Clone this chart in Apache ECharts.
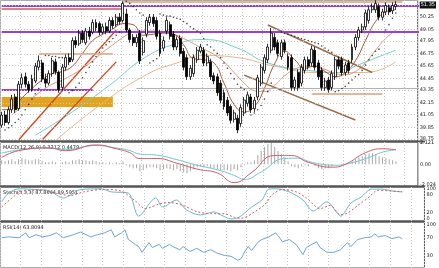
<!DOCTYPE html>
<html>
<head>
<meta charset="utf-8">
<script src="https://cdn.jsdelivr.net/npm/echarts@6/dist/echarts.min.js"></script>
<style>
  html, body { margin: 0; padding: 0; background: #fff; }
  #chart { width: 439px; height: 268px; }
</style>
</head>
<body>
<div id="chart"></div>
<script>
// ---- data ----
const slotCount = 124;
const categories = [];
for (let i = 0; i < slotCount; i++) categories.push(String(i));

// [open, close, low, high]
const candles = [
  [40.06, 41.0, 39.8, 41.3], [41.0, 40.3, 40.0, 41.4], [40.3, 41.5, 40.1, 41.8], [41.5, 42.5, 41.2, 42.9],
  [42.7, 41.5, 41.2, 43.0], [41.6, 43.9, 41.4, 44.2], [43.9, 44.5, 43.5, 44.9], [44.6, 43.9, 43.6, 45.0],
  [43.9, 43.4, 43.1, 44.2], [43.4, 44.4, 43.2, 44.8], [44.2, 45.6, 44.0, 45.9], [45.5, 46.1, 45.2, 46.6],
  [45.9, 44.4, 44.1, 46.2], [44.4, 44.0, 43.6, 44.9], [44.0, 44.9, 43.8, 45.2], [44.9, 46.1, 44.6, 46.4],
  [46.0, 45.1, 44.8, 46.3], [45.0, 43.4, 43.1, 45.2], [43.6, 45.5, 43.3, 45.8], [45.5, 46.4, 45.2, 46.7],
  [46.4, 46.0, 45.7, 46.8], [46.2, 48.0, 46.0, 48.3], [48.0, 47.6, 47.3, 48.4], [47.7, 48.7, 47.5, 49.0],
  [48.7, 48.1, 47.8, 49.0], [47.8, 48.9, 47.6, 49.2], [48.9, 48.4, 48.1, 49.3], [48.8, 49.7, 48.6, 50.0],
  [49.7, 49.2, 48.9, 50.0], [49.6, 48.8, 48.5, 49.8], [48.8, 49.3, 48.6, 49.6], [49.3, 48.9, 48.6, 49.7],
  [48.9, 49.9, 48.7, 50.2], [49.9, 49.4, 49.1, 50.2], [49.5, 50.2, 49.3, 50.5], [50.2, 49.8, 49.5, 50.6],
  [49.9, 51.5, 49.7, 51.7], [50.5, 49.0, 48.8, 51.0], [49.0, 48.1, 47.8, 49.2], [48.3, 47.8, 47.5, 48.6],
  [47.8, 48.3, 47.4, 48.6], [48.7, 46.1, 45.8, 49.0], [46.9, 48.0, 46.6, 48.3], [48.6, 49.9, 48.3, 50.2],
  [49.7, 50.2, 49.4, 50.5], [50.2, 49.6, 49.3, 50.5], [49.9, 48.4, 48.1, 50.2], [48.7, 46.8, 46.5, 49.0],
  [47.3, 48.0, 47.0, 48.4], [48.9, 49.9, 48.6, 50.2], [49.5, 48.4, 48.1, 49.8], [48.6, 47.4, 47.1, 48.9],
  [47.4, 48.1, 47.1, 48.4], [48.2, 46.8, 46.5, 48.5], [47.0, 45.5, 45.2, 47.3], [46.4, 44.6, 44.3, 46.7],
  [44.6, 45.4, 44.3, 45.7], [44.9, 46.4, 44.6, 46.7], [46.2, 47.1, 45.9, 47.4], [47.0, 47.4, 46.8, 47.7],
  [47.1, 45.9, 45.6, 47.4], [45.9, 46.5, 45.6, 46.8], [46.0, 44.6, 44.3, 46.3], [44.7, 44.2, 43.9, 45.0],
  [44.6, 43.1, 42.8, 44.9], [44.0, 42.4, 42.1, 44.3], [43.1, 41.8, 41.5, 43.4], [42.4, 41.2, 40.9, 42.7],
  [41.8, 40.5, 40.2, 42.0], [40.6, 41.2, 40.3, 41.5], [40.7, 39.6, 39.3, 41.0], [40.2, 41.7, 39.9, 42.0],
  [41.2, 42.4, 40.9, 42.7], [42.1, 42.9, 41.8, 43.2], [42.7, 41.5, 41.2, 43.0], [41.6, 42.4, 41.3, 42.7],
  [42.7, 44.5, 42.4, 44.8], [44.0, 45.5, 43.7, 45.8], [45.2, 46.4, 44.9, 46.7], [46.2, 47.4, 45.9, 47.7],
  [47.1, 48.7, 46.8, 49.2], [48.3, 47.4, 47.1, 48.7], [47.8, 46.8, 46.5, 48.1], [46.5, 47.8, 46.2, 48.1],
  [47.8, 47.1, 46.8, 48.1], [46.5, 45.5, 45.2, 46.8], [46.4, 43.6, 43.3, 46.7], [43.6, 44.3, 43.3, 44.6],
  [45.0, 43.6, 43.3, 45.3], [44.0, 45.5, 43.7, 45.8], [45.2, 46.2, 44.9, 46.5], [46.2, 45.6, 45.3, 46.5],
  [45.9, 47.2, 45.6, 47.5], [47.1, 45.5, 45.2, 47.4], [45.9, 44.6, 44.3, 46.2], [45.2, 43.6, 43.3, 45.5],
  [43.6, 44.2, 43.3, 44.5], [44.3, 43.4, 43.1, 44.6], [43.6, 44.9, 43.3, 45.2], [44.6, 46.2, 44.3, 46.5],
  [46.2, 45.6, 45.3, 46.5], [46.2, 45.0, 44.7, 46.5], [45.0, 45.7, 44.7, 46.0], [45.9, 45.2, 44.9, 46.2],
  [46.2, 47.4, 45.9, 47.7], [47.4, 48.3, 47.1, 48.6], [48.3, 49.0, 48.0, 49.3], [49.0, 49.3, 48.7, 49.6],
  [49.3, 50.6, 49.0, 50.9], [49.9, 50.9, 49.6, 51.2], [50.9, 51.2, 50.6, 51.5], [50.9, 51.5, 50.6, 51.8],
  [51.2, 50.2, 49.9, 51.5], [50.2, 50.7, 49.9, 51.0], [50.7, 51.3, 50.4, 51.6], [51.1, 50.7, 50.4, 51.4],
  [50.8, 51.3, 50.5, 51.6], [51.2, 51.4, 50.9, 51.7]
];

// moving averages, [candle index, price]
const maFast = [[0, 41.5], [3, 41.6], [6, 42.6], [9, 43.5], [12, 44.3], [15, 44.9], [18, 45.1], [21, 45.6],
  [24, 46.8], [27, 48.0], [30, 48.6], [33, 49.1], [36, 49.6], [39, 49.5], [42, 48.5], [45, 48.6], [48, 48.7],
  [51, 48.6], [54, 47.6], [57, 46.3], [60, 46.2], [63, 45.9], [66, 44.0], [69, 42.0], [72, 41.3], [75, 41.8],
  [78, 43.5], [81, 45.8], [84, 47.0], [87, 46.2], [90, 45.4], [93, 45.6], [96, 45.1], [99, 44.6], [102, 45.0],
  [105, 46.1], [108, 48.0], [111, 49.8], [114, 50.7], [117, 50.9]];
const maMid = [[3, 41.0], [6, 41.8], [9, 42.6], [12, 43.3], [15, 43.9], [18, 44.3], [21, 44.8], [24, 45.4],
  [27, 46.1], [30, 46.9], [33, 47.6], [36, 48.3], [39, 48.8], [42, 48.9], [45, 48.9], [48, 48.8], [51, 48.6],
  [54, 48.2], [57, 47.7], [60, 47.2], [63, 46.7], [66, 46.0], [69, 45.0], [72, 44.0], [75, 43.3], [78, 43.2],
  [81, 43.8], [84, 44.7], [87, 45.3], [90, 45.6], [93, 45.6], [96, 45.3], [99, 44.9], [102, 44.8], [105, 45.1],
  [108, 45.9], [111, 47.1], [114, 48.2], [117, 49.0]];
const maTeal = [[10, 39.1], [21, 41.3], [32, 43.8], [43, 46.5], [53, 47.8], [60, 48.1], [70, 47.3], [79, 45.9],
  [91, 45.2], [101, 45.0], [105, 45.6], [117, 47.1]];
const maTan = [[16, 38.6], [29, 41.9], [43, 44.8], [52, 45.9], [60, 46.6], [70, 46.4], [81, 45.6], [94, 45.0],
  [108, 45.0], [117, 46.0]];

// parabolic SAR dots
const sarDots = [[1, 39.6], [2, 39.8], [3, 40.0], [4, 40.3], [5, 40.6], [6, 41.0], [7, 41.5], [8, 42.0], [9, 42.5],
  [10, 43.0], [11, 43.5], [13, 46.6], [14, 46.6], [15, 46.5], [16, 46.5], [17, 46.4], [18, 46.4], [19, 46.3],
  [20, 43.1], [21, 43.3], [22, 43.6], [23, 44.0], [24, 44.5], [25, 45.0], [26, 45.5], [27, 46.0], [28, 46.5],
  [29, 46.9], [30, 47.3], [31, 47.6], [32, 47.9], [33, 48.2], [34, 48.5], [35, 48.8], [37, 51.7], [38, 51.5],
  [39, 51.2], [40, 50.9], [41, 50.6], [42, 50.4], [44, 45.9], [45, 46.1], [46, 46.3], [47, 50.5], [48, 50.4],
  [49, 50.3], [50, 50.3], [51, 50.2], [52, 50.1], [53, 50.0], [54, 49.8], [55, 49.6], [56, 49.3], [57, 49.1],
  [58, 48.9], [59, 48.7], [60, 48.2], [61, 47.6], [62, 47.4], [63, 47.1], [64, 46.8], [65, 46.4], [66, 45.9],
  [67, 45.4], [68, 44.9], [69, 44.4], [70, 43.9], [71, 43.6], [72, 43.4], [74, 41.0], [75, 41.2], [76, 41.5],
  [77, 41.9], [78, 42.5], [79, 43.2], [80, 44.0], [83, 48.8], [84, 48.7], [85, 48.6], [86, 48.5], [87, 48.4],
  [88, 48.3], [89, 48.2], [90, 48.1], [91, 48.0], [92, 47.9], [93, 47.8], [94, 47.7], [95, 47.5], [96, 47.3],
  [97, 47.1], [98, 46.9], [99, 43.2], [100, 43.3], [101, 43.5], [102, 43.7], [103, 44.0], [104, 44.3],
  [105, 44.6], [106, 44.8], [107, 45.2], [108, 45.7], [109, 46.2], [110, 46.6], [111, 47.0], [112, 47.2],
  [114, 49.0], [115, 49.5], [116, 50.1], [117, 50.6]];

// drawn objects on the price panel, [[x1, y1], [x2, y2]] in candle index / price
const redTrendLines = [[[5.3, 38.65], [33.6, 49.0]], [[12.0, 38.65], [33.9, 46.0]]];
const channelLines = [[[79.1, 49.47], [109.7, 45.0]], [[72.4, 44.76], [105.0, 40.53]]];
const purpleLevels = [[[-0.5, 51.26], [123.5, 51.26]], [[-0.5, 48.8], [123.5, 48.8]], [[-0.5, 43.35], [27.2, 43.35]]];
const tanLevels = [[[11.2, 46.74], [33.0, 46.74]], [[92.0, 42.97], [112.5, 42.97]], [[36.0, 51.63], [119.0, 51.63]]];
const redLevels = [[[-0.5, 50.97], [36.0, 50.97]]];
const greyLevels = [[[40.0, 43.5], [123.5, 43.5]]];
const goldZone = [[-0.5, 42.69], [33.0, 41.75]];

// MACD
const macdHist = [0.4, 0.3, 0.4, 0.5, 0.3, 0.5, 0.6, 0.5, 0.4, 0.4, 0.5, 0.5, 0.3,
  0.2, 0.2, 0.3, 0.2, 0.0, 0.2, 0.3, 0.2, 0.4, 0.4, 0.5, 0.4,
  0.4, 0.3, 0.4, 0.3, 0.2, 0.2, 0.1, 0.2, 0.1, 0.2, 0.1, 0.3,
  -0.1, -0.3, -0.4, -0.4, -0.7, -0.6, -0.4, -0.3, -0.3, -0.4, -0.6, -0.5, -0.4, -0.5,
  -0.6, -0.5, -0.7, -0.8, -0.9, -0.7, -0.5, -0.3, -0.2, -0.3, -0.2, -0.4, -0.4,
  -0.5, -0.6, -0.6, -0.6, -0.7, -0.5, -0.6, -0.3, -0.1,
  0.2, 0.2, 0.4, 0.9, 1.3, 1.7, 2.0, 2.1, 1.7, 1.3,
  1.0, 0.7, 0.3, -0.2, -0.3, -0.4, -0.2, -0.1, -0.2, 0.0, -0.2, -0.4, -0.5, -0.4, -0.4,
  -0.2, 0.0, 0.0, -0.1, 0.0, 0.0, 0.3, 0.5,
  0.7, 0.8, 1.0, 1.1, 1.1, 1.0, 0.8, 0.7, 0.6, 0.5, 0.4, 0.3];
const macdRed = [[0, 0.67], [5, 1.34], [14, 1.62], [19, 1.34], [28, 1.91], [34, 1.53], [38, 1.15], [41, 0.57],
  [46, 0.57], [52, 0.1], [58, -0.48], [64, -0.86], [69, -1.81], [74, -0.86], [81, 0.86], [86, 0.86], [91, 0.19],
  [98, -0.29], [102, 0.0], [108, 1.15], [113, 1.53], [117, 1.43]];
const macdTeal = [[0, 1.1], [5, 1.4], [14, 1.6], [19, 1.45], [28, 1.85], [34, 1.6], [38, 1.35], [41, 1.0],
  [46, 0.9], [52, 0.45], [58, -0.1], [64, -0.55], [69, -1.1], [72, -1.5], [77, -0.76], [84, 0.57], [88, 0.6],
  [91, 0.29], [95, 0.0], [99, -0.1], [102, 0.0], [109, 0.67], [113, 1.2], [117, 1.43]];

// Stochastic
const stochMain = [[0, 57], [2, 86], [5, 100], [11, 97], [14, 93], [18, 70], [23, 97], [29, 100], [32, 90],
  [37, 86], [40, 10], [45, 70], [47, 40], [51, 63], [54, 30], [58, 14], [62, 24], [64, 14], [67, 1], [69, 4],
  [73, 40], [76, 63], [78, 99], [80, 100], [84, 90], [88, 63], [91, 27], [95, 57], [98, 20], [99, 10],
  [102, 53], [105, 73], [108, 99], [111, 99], [114, 93], [117, 90]];
const stochSignal = [[0, 40], [3, 70], [6, 92], [12, 96], [16, 85], [20, 78], [24, 90], [30, 98], [35, 92],
  [39, 60], [42, 35], [46, 50], [49, 55], [53, 45], [57, 25], [61, 18], [65, 18], [68, 6], [70, 3], [74, 25],
  [77, 50], [79, 80], [82, 98], [86, 90], [89, 70], [93, 35], [96, 45], [99, 15], [101, 20], [104, 45],
  [107, 70], [110, 95], [117, 90]];

// RSI
const rsiLine = [[0, 71], [2, 73], [5, 71], [7, 82], [8, 71], [10, 78], [12, 73], [14, 76], [16, 82], [18, 71],
  [21, 78], [23, 84], [26, 73], [28, 78], [30, 82], [32, 89], [33, 73], [35, 82], [36, 89], [37, 67], [39, 56],
  [40, 51], [41, 38], [43, 60], [44, 49], [46, 56], [47, 47], [49, 56], [50, 51], [52, 44], [53, 51], [55, 40],
  [57, 47], [59, 38], [61, 44], [63, 36], [65, 31], [67, 29], [69, 20], [70, 24], [71, 40], [72, 51], [73, 42],
  [75, 62], [76, 67], [78, 73], [80, 82], [81, 73], [82, 62], [84, 67], [86, 56], [88, 33], [89, 49], [92, 62],
  [93, 49], [95, 38], [97, 38], [99, 44], [101, 60], [102, 51], [104, 67], [106, 71], [108, 73], [109, 80],
  [110, 73], [112, 76], [114, 69], [116, 73], [117, 69]];

// axis labels
const priceTicks = [38.75, 39.85, 41.05, 42.15, 43.35, 44.45, 45.65, 46.75, 47.95, 49.05, 50.25, 51.35];
const lastPrice = 51.35;
const macdTicks = [-2.024, 0, 2.121];
const stochTicks = [0, 20, 80, 100];
const rsiTicks = [30, 70, 100];

// ---- chart ----
const chart = echarts.init(document.getElementById("chart"), null, { renderer: "canvas" });
const FONT = "DejaVu Sans";
const tinyLabel = { fontSize: 5, color: "#222", fontFamily: FONT, margin: 2 };

function xAxisFor(gi) {
  return {
    type: "category", gridIndex: gi, data: categories, boundaryGap: true,
    axisLine: { show: false }, axisTick: { show: false }, axisLabel: { show: false },
    splitLine: { show: true, interval: 5, lineStyle: { color: "#c8c8c8", type: [1, 2], width: 1 } }
  };
}
function yAxisFor(gi, min, max, ticks, fmt) {
  return {
    type: "value", gridIndex: gi, position: "right", min: min, max: max, scale: true,
    axisLine: { show: false }, axisTick: { show: false }, splitLine: { show: false },
    axisLabel: Object.assign({ customValues: ticks, formatter: fmt, showMinLabel: true, showMaxLabel: true }, tinyLabel)
  };
}
function segSeries(list, color, width, xi) {
  return list.map(seg => ({
    type: "line", xAxisIndex: xi || 0, yAxisIndex: xi || 0, data: seg, symbol: "none", silent: true,
    lineStyle: { color: color, width: width }, z: 4
  }));
}

const gridStyle = { show: true, borderColor: "#555", borderWidth: 1, backgroundColor: "#fff" };

const option = {
  animation: false,
  backgroundColor: "#fff",
  grid: [
    Object.assign({ left: 0, right: 14, top: 0, height: 141 }, gridStyle),
    Object.assign({ left: 0, right: 14, top: 142, height: 44 }, gridStyle),
    Object.assign({ left: 0, right: 14, top: 187, height: 34 }, gridStyle),
    Object.assign({ left: 0, right: 14, top: 222, height: 50 }, gridStyle)
  ],
  xAxis: [xAxisFor(0), xAxisFor(1), xAxisFor(2), xAxisFor(3)],
  yAxis: [
    yAxisFor(0, 38.56, 51.82, priceTicks, v => v === lastPrice ? "{cur|" + v.toFixed(2) + "}" : v.toFixed(2)),
    yAxisFor(1, -2.15, 2.2, macdTicks, v => v === 0 ? "0.00" : v.toFixed(3)),
    yAxisFor(2, -6, 106, stochTicks, v => String(v)),
    yAxisFor(3, 2.5, 106.7, rsiTicks, v => String(v))
  ],
  series: [
    {
      type: "candlestick", xAxisIndex: 0, yAxisIndex: 0, data: candles, barWidth: 2.4, z: 6,
      itemStyle: { color: "#ffffff", color0: "#000000", borderColor: "#000000", borderColor0: "#000000", borderWidth: 0.8 },
      markLine: {
        silent: true, symbol: "none", label: { show: false },
        lineStyle: { color: "#c8c8c8", type: [1, 2], width: 1 },
        data: priceTicks.map(v => ({ yAxis: v }))
      },
      markArea: {
        silent: true, itemStyle: { color: "#e3a31a" },
        data: [[{ coord: goldZone[0] }, { coord: goldZone[1] }]]
      }
    },
    { type: "line", data: maTan, symbol: "none", smooth: true, lineStyle: { color: "#e8b48c", width: 1 }, z: 3 },
    { type: "line", data: maTeal, symbol: "none", smooth: true, lineStyle: { color: "#72d0cc", width: 1 }, z: 3 },
    { type: "line", data: maMid, symbol: "none", smooth: true, lineStyle: { color: "#d9967a", width: 1 }, z: 3 },
    { type: "line", data: maFast, symbol: "none", smooth: true, lineStyle: { color: "#a0583a", width: 1 }, z: 3 },
    { type: "scatter", data: sarDots, symbol: "circle", symbolSize: 1.6, itemStyle: { color: "#111" }, z: 5, silent: true },
    ...segSeries(redTrendLines, "#d2451e", 1.3),
    ...segSeries(channelLines, "#9b6b45", 1.5),
    ...segSeries(purpleLevels, "#9a3fcf", 2),
    ...segSeries(tanLevels, "#d8a07c", 1.5),
    ...segSeries(redLevels, "#c8604e", 1.5),
    ...segSeries(greyLevels, "#b0b0b0", 1),

    {
      type: "bar", xAxisIndex: 1, yAxisIndex: 1, data: macdHist, barWidth: 1,
      itemStyle: { color: "#a8a8a8" }, silent: true
    },
    { type: "line", xAxisIndex: 1, yAxisIndex: 1, data: macdTeal, symbol: "none", smooth: true, lineStyle: { color: "#6cc8d0", width: 1 } },
    { type: "line", xAxisIndex: 1, yAxisIndex: 1, data: macdRed, symbol: "none", smooth: true, lineStyle: { color: "#d05a6a", width: 1 } },

    { type: "line", xAxisIndex: 2, yAxisIndex: 2, data: stochMain, symbol: "none", smooth: 0.3, lineStyle: { color: "#6cb8c8", width: 1 } },
    { type: "line", xAxisIndex: 2, yAxisIndex: 2, data: stochSignal, symbol: "none", smooth: 0.3, lineStyle: { color: "#d06060", width: 1, type: [2, 2] } },

    { type: "line", xAxisIndex: 3, yAxisIndex: 3, data: rsiLine, symbol: "none", lineStyle: { color: "#6fa3d6", width: 1 } }
  ],
  graphic: [
    { type: "rect", left: 0, top: 140.5, shape: { width: 425, height: 2 }, style: { fill: "#555" }, silent: true },
    { type: "rect", left: 0, top: 185.5, shape: { width: 425, height: 2 }, style: { fill: "#555" }, silent: true },
    { type: "rect", left: 0, top: 220.5, shape: { width: 425, height: 2 }, style: { fill: "#555" }, silent: true },
    { type: "text", left: 3, top: 145, style: { text: "MACD(12,26,9) 0.3212 0.4479", fontSize: 5, fill: "#222", fontFamily: FONT } },
    { type: "text", left: 3, top: 190, style: { text: "Stoch(5,3,3) 87.8644 89.5951", fontSize: 5, fill: "#222", fontFamily: FONT } },
    { type: "text", left: 3, top: 225, style: { text: "RSI(14) 63.8094", fontSize: 5, fill: "#222", fontFamily: FONT } }
  ]
};
option.yAxis[0].axisLabel.rich = {
  cur: { backgroundColor: "#111", color: "#fff", fontSize: 5, padding: [1, 1], fontFamily: FONT }
};
chart.setOption(option);
</script>
</body>
</html>
